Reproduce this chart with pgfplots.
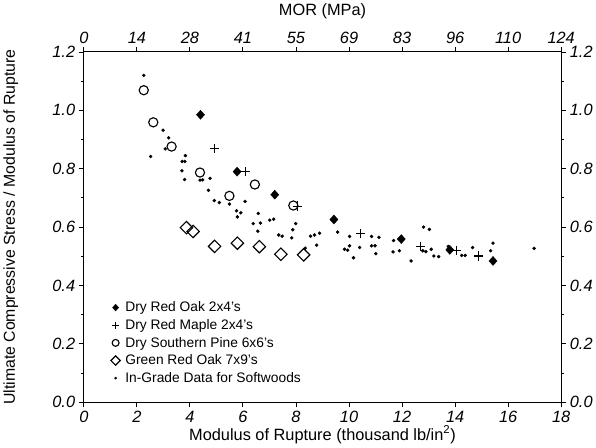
\documentclass[border=0pt]{standalone}
\usepackage{fontspec}
\setmainfont{Liberation Sans}
\usepackage{pgfplots}
\pgfplotsset{compat=1.18}

\pgfplotsset{
  mybase/.style={
    scale only axis, width=467.5pt, height=343pt,
    xmin=0, xmax=18, ymin=0, ymax=1.2,
    xtick={0,2,4,6,8,10,12,14,16,18},
    ytick={0,0.2,0.4,0.6,0.8,1.0,1.2},
    minor ytick={0.1,0.3,0.5,0.7,0.9,1.1},
    tick align=outside,
    major tick length=5pt, minor tick length=3pt,
    axis line style={line width=1pt},
    every tick/.style={black, line width=0.9pt},
    /pgf/number format/assume math mode=true,
    ticklabel style={font=\fontsize{16}{16}\selectfont\itshape},
    yticklabel style={/pgf/number format/.cd, fixed, fixed zerofill, precision=1},
    label style={font=\fontsize{16}{18}\selectfont},
  }
}

\begin{document}
\begin{tikzpicture}
  % main axis: data, bottom and left scales
  \begin{axis}[
      mybase,
      xtick pos=lower, ytick pos=left,
      xlabel={Modulus of Rupture (thousand lb/in\textsuperscript{2})},
      ylabel={Ultimate Compressive Stress / Modulus of Rupture},
      xlabel style={at={(axis description cs:0.5,-0.093)}, anchor=center},
      ylabel style={at={(axis description cs:-0.153,0.5)}, anchor=center, font=\fontsize{15.5}{17}\selectfont},
      legend style={at={(axis description cs:0.05,0.04)}, anchor=south west,
        draw=none, fill=none, font=\fontsize{13.5}{15}\selectfont,
        row sep=2pt, cells={anchor=west},
        /tikz/every odd column/.append style={column sep=3pt}},
      legend image post style={scale=0.75},
      legend cell align=left,
    ]
    % Dry Red Oak 2x4's
    \addplot[only marks, mark=diamond*, mark size=4.4pt, black, mark options={xscale=1.2}] coordinates {
      (4.40,0.985) (5.78,0.790) (7.20,0.711) (9.43,0.626)
      (11.97,0.559) (13.80,0.522) (15.43,0.484)
    };
    % Dry Red Maple 2x4's
    \addplot[only marks, mark=+, mark size=4.5pt, black, mark options={line width=1pt}] coordinates {
      (4.93,0.868) (6.08,0.790) (8.06,0.672) (10.44,0.577)
      (12.71,0.533) (14.06,0.519) (14.89,0.501)
    };
    % Dry Southern Pine 6x6's
    \addplot[only marks, mark=o, mark size=4.5pt, black, mark options={line width=1.1pt}] coordinates {
      (2.26,1.069) (2.62,0.959) (3.31,0.876) (4.38,0.787)
      (5.49,0.707) (6.45,0.746) (7.90,0.674)
    };
    % Green Red Oak 7x9's
    \addplot[only marks, mark=square, mark size=4.3pt, black, mark options={rotate=45, line width=1.1pt}] coordinates {
      (3.87,0.598) (4.12,0.585) (4.93,0.534) (5.79,0.545)
      (6.62,0.533) (7.43,0.507) (8.29,0.505)
    };
    % In-Grade Data for Softwoods
    \addplot[only marks, mark=*, mark size=1.5pt, black] coordinates {
      (2.26,1.120) (2.99,0.932) (3.20,0.906) (3.07,0.868) (2.52,0.842)
      (3.83,0.845) (3.71,0.825) (3.81,0.825) (3.70,0.793) (3.80,0.763)
      (4.38,0.761) (4.48,0.762) (4.76,0.767) (4.70,0.726) (4.92,0.691)
      (5.11,0.684) (5.49,0.679) (6.08,0.688) (5.76,0.656) (5.92,0.649)
      (5.79,0.635) (6.58,0.647) (6.39,0.612) (6.66,0.614) (6.56,0.586)
      (7.01,0.624) (7.16,0.627) (7.35,0.573) (7.48,0.569) (7.99,0.612)
      (7.88,0.591) (7.84,0.563) (8.55,0.569) (8.70,0.573) (8.89,0.579)
      (8.78,0.538) (8.35,0.528) (9.57,0.583) (10.02,0.568) (9.83,0.524)
      (9.95,0.521) (10.02,0.536) (10.17,0.495) (10.40,0.530) (10.85,0.568)
      (11.13,0.565) (10.85,0.536) (10.98,0.536) (11.01,0.509) (11.68,0.554)
      (11.66,0.515) (11.90,0.519) (12.34,0.484) (12.81,0.600) (13.03,0.592)
      (12.78,0.519) (12.90,0.516) (13.10,0.524) (13.20,0.501) (13.38,0.499)
      (13.74,0.534) (14.25,0.503) (14.38,0.503) (14.66,0.530) (15.43,0.545)
      (15.34,0.519) (16.98,0.527)
    };
    \legend{Dry Red Oak 2x4's, Dry Red Maple 2x4's, Dry Southern Pine 6x6's,
      Green Red Oak 7x9's, In-Grade Data for Softwoods}
  \end{axis}
  % second axis: top MPa scale and right scale
  \begin{axis}[
      mybase,
      xtick pos=upper, xticklabel pos=upper,
      ytick pos=right, yticklabel pos=right,
      xticklabels={0,14,28,41,55,69,83,96,110,124},
      xlabel={MOR (MPa)},
      xlabel style={at={(axis description cs:0.5,1.117)}, anchor=center},
    ]
    \addplot[draw=none] coordinates {(0,0)};
  \end{axis}
\end{tikzpicture}
\end{document}
